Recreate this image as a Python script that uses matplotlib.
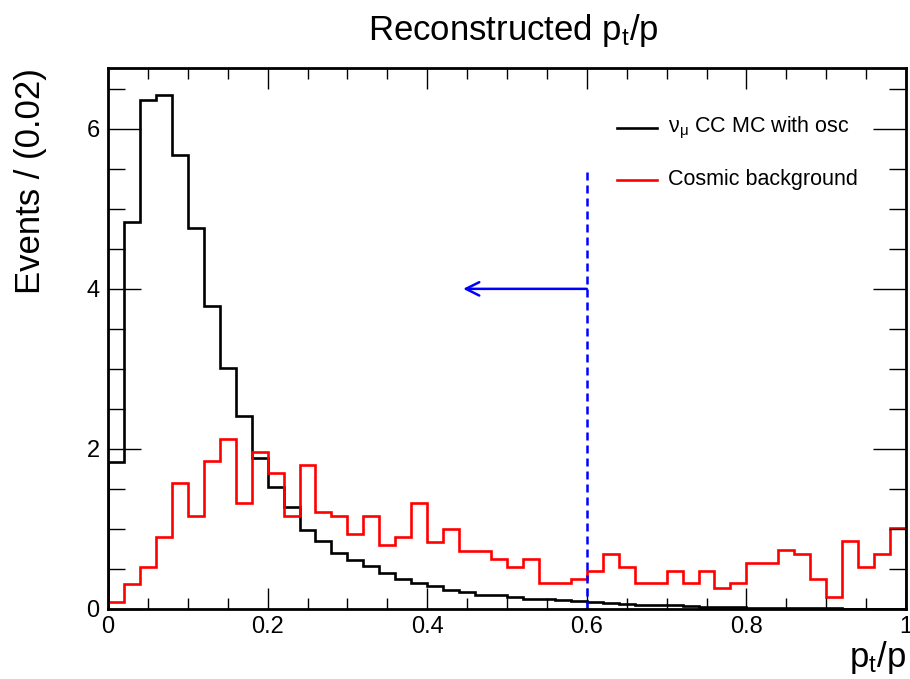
import matplotlib
matplotlib.use("Agg")
import matplotlib.pyplot as plt
import numpy as np
from matplotlib.ticker import MultipleLocator

plt.rcParams['font.family'] = ['Liberation Sans', 'DejaVu Sans']
plt.rcParams['mathtext.fontset'] = 'custom'
plt.rcParams['mathtext.rm'] = 'Liberation Sans'
plt.rcParams['mathtext.it'] = 'Liberation Sans'

# 50 bins of width 0.02 in pt/p
bin_edges = np.linspace(0, 1, 51)

# nu_mu CC MC with oscillations
numu_mc = [1.84, 4.84, 6.36, 6.42, 5.67, 4.76, 3.78, 3.01, 2.41, 1.89,
           1.53, 1.28, 0.99, 0.85, 0.70, 0.61, 0.54, 0.45, 0.38, 0.33,
           0.29, 0.24, 0.21, 0.18, 0.17, 0.15, 0.13, 0.12, 0.11, 0.10,
           0.085, 0.075, 0.065, 0.055, 0.05, 0.045, 0.035, 0.03, 0.025, 0.02,
           0.018, 0.015, 0.012, 0.01, 0.008, 0.007, 0.006, 0.005, 0.004, 0.003]

# cosmic background
cosmic = [0.09, 0.31, 0.53, 0.90, 1.58, 1.16, 1.85, 2.12, 1.32, 1.96,
          1.70, 1.16, 1.80, 1.21, 1.16, 0.94, 1.16, 0.80, 0.90, 1.32,
          0.84, 1.00, 0.73, 0.73, 0.63, 0.53, 0.63, 0.32, 0.32, 0.375,
          0.48, 0.69, 0.53, 0.32, 0.32, 0.48, 0.32, 0.48, 0.26, 0.32,
          0.58, 0.58, 0.74, 0.69, 0.375, 0.15, 0.85, 0.53, 0.69, 1.01]

cut_value = 0.6
cut_top = 5.5
arrow_y = 4.0
arrow_end = 0.445

fig = plt.figure(figsize=(9.1, 6.79), dpi=100)
ax = fig.add_axes([0.1187, 0.1031, 0.8769, 0.7968])

ax.stairs(numu_mc, bin_edges, baseline=0, color='black', linewidth=1.9)
ax.stairs(cosmic, bin_edges, baseline=0, color='red', linewidth=1.9)

ax.plot([cut_value, cut_value], [0, cut_top], color='blue', linestyle=(0, (3.2, 2.0)), linewidth=1.8)
ax.annotate('', xy=(arrow_end, arrow_y), xytext=(cut_value, arrow_y),
            arrowprops=dict(arrowstyle='->', color='blue', lw=1.8, mutation_scale=24,
                            shrinkA=0, shrinkB=0))

ax.set_xlim(0, 1)
ax.set_ylim(0, 6.76)

ax.xaxis.set_major_locator(MultipleLocator(0.2))
ax.xaxis.set_minor_locator(MultipleLocator(0.05))
ax.yaxis.set_major_locator(MultipleLocator(2))
ax.yaxis.set_minor_locator(MultipleLocator(0.5))
ax.tick_params(which='both', direction='in', top=True, right=True, width=1.0)
ax.tick_params(axis='x', which='major', length=15)
ax.tick_params(axis='x', which='minor', length=8)
ax.tick_params(axis='y', which='major', length=24)
ax.tick_params(axis='y', which='minor', length=12)
ax.tick_params(axis='both', labelsize=17)
ax.tick_params(axis='x', pad=5)
ax.tick_params(axis='y', pad=6)
ax.xaxis.set_major_formatter(plt.FuncFormatter(lambda v, p: '%g' % v))
ax.yaxis.set_major_formatter(plt.FuncFormatter(lambda v, p: '%g' % v))
for s in ax.spines.values():
    s.set_linewidth(2.0)

# legend drawn by hand, ROOT style
ax.plot([0.638, 0.688], [0.889, 0.889], color='black', lw=1.9, transform=ax.transAxes)
ax.plot([0.638, 0.688], [0.793, 0.793], color='red', lw=1.9, transform=ax.transAxes)
ax.text(0.702, 0.889, r'$\mathrm{\nu_{\mu}}$ CC MC with osc', transform=ax.transAxes,
        fontsize=15.5, va='center', ha='left')
ax.text(0.702, 0.793, 'Cosmic background', transform=ax.transAxes,
        fontsize=15.5, va='center', ha='left')

fig.text(0.564, 0.955, r'Reconstructed p$_\mathrm{t}$/p', fontsize=25, ha='center', va='center')
fig.text(0.033, 0.9, 'Events / (0.02)', fontsize=25, rotation=90, ha='center', va='top')
fig.text(0.996, 0.032, r'p$_\mathrm{t}$/p', fontsize=25, ha='right', va='center')

fig.savefig('out.png', dpi=100)
